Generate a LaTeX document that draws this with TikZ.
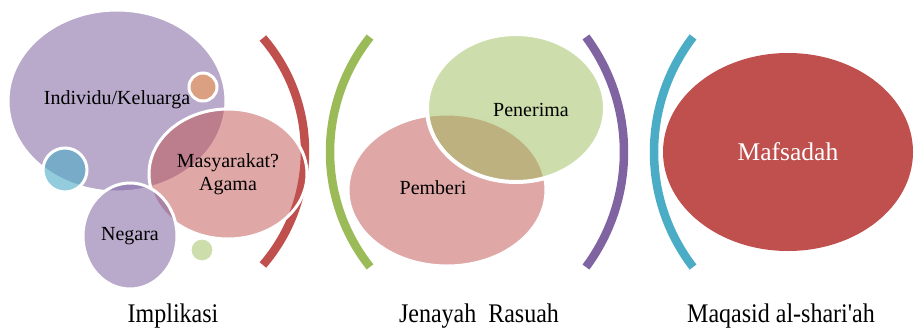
\documentclass[tikz,border=0pt]{standalone}
\usepackage{fontspec}
\setmainfont{Liberation Serif}
\usetikzlibrary{shapes.geometric}
\definecolor{cred}{RGB}{192,80,77}
\definecolor{cgreen}{RGB}{155,187,89}
\definecolor{cpurple}{RGB}{128,100,162}
\definecolor{ccyan}{RGB}{75,172,198}
\definecolor{corange}{RGB}{247,150,70}

\tikzset{
	bubble/.style={ellipse, draw=white, line width=3pt, fill opacity=0.55, text opacity=1, inner sep=0pt, align=center, font=\fontsize{20}{23}\selectfont},
	bubbletext/.style={font=\fontsize{20}{23}\selectfont},
	bracket/.style={line width=8.5pt},
	caption/.style={font=\fontsize{24}{28}\selectfont}
}
\newcommand{\tallcap}[1]{\scalebox{1}[1.12]{#1}}

\begin{document}
\begin{tikzpicture}[x=1pt, y=-1pt]
	\useasboundingbox (0,0) rectangle (915,330);

	% Brackets
	\draw[bracket, cred] ([shift={(-40.7:174pt)}]131,151.5) arc[start angle=-40.7, end angle=40.7, radius=174pt];
	\draw[bracket, cgreen] ([shift={(141.6:185pt)}]515,152) arc[start angle=141.6, end angle=218.4, radius=185pt];
	\draw[bracket, cpurple] ([shift={(-36.6:193pt)}]431,152) arc[start angle=-36.6, end angle=36.6, radius=193pt];
	\draw[bracket, ccyan] ([shift={(142.5:189pt)}]843,152) arc[start angle=142.5, end angle=217.5, radius=189pt];

	% Implikasi
	\node[bubble, fill=cpurple, minimum width=218pt, minimum height=182pt] (individu) at (117,101) {};
	\node[bubbletext] (individutext) at (117,100) {Individu/Keluarga};
	\node[bubble, fill=corange, minimum width=28pt, minimum height=28pt] (dotorange) at (203,87) {};
	\node[bubble, fill=ccyan, fill opacity=0.6, minimum width=44pt, minimum height=44pt] (dotblue) at (65,170) {};
	\node[bubble, fill=cred, fill opacity=0.5, minimum width=158pt, minimum height=130pt] (masyarakat) at (228,174) {Masyarakat?\\Agama};
	\node[bubble, fill=cpurple, minimum width=94pt, minimum height=106pt] (negara) at (130,236) {Negara};
	\node[bubble, fill=cgreen, fill opacity=0.5, minimum width=24pt, minimum height=24pt] (dotgreen) at (202,250) {};

	% Jenayah Rasuah
	\node[bubble, fill=cred, fill opacity=0.5, minimum width=198pt, minimum height=152pt] (pemberi) at (447,190) {};
	\node[bubbletext] (pemberitext) at (433,188) {Pemberi};
	\node[bubble, fill=cgreen, fill opacity=0.5, line width=4pt, minimum width=178pt, minimum height=148pt] (penerima) at (516,108) {};
	\node[bubbletext] (penerimatext) at (531,110) {Penerima};

	% Maqasid al-shari'ah
	\node[ellipse, fill=cred, inner sep=0pt, minimum width=250pt, minimum height=198pt, text=white, font=\fontsize{25.5}{30}\selectfont] (mafsadah) at (788,152) {Mafsadah};

	% Captions
	\node[caption] (implikasi) at (173,316) {\tallcap{Implikasi}};
	\node[caption] (jenayah) at (479,316) {\tallcap{Jenayah\ \ Rasuah}};
	\node[caption] (maqasid) at (781,316) {\tallcap{Maqasid al-shari\textquotesingle ah}};
\end{tikzpicture}
\end{document}
